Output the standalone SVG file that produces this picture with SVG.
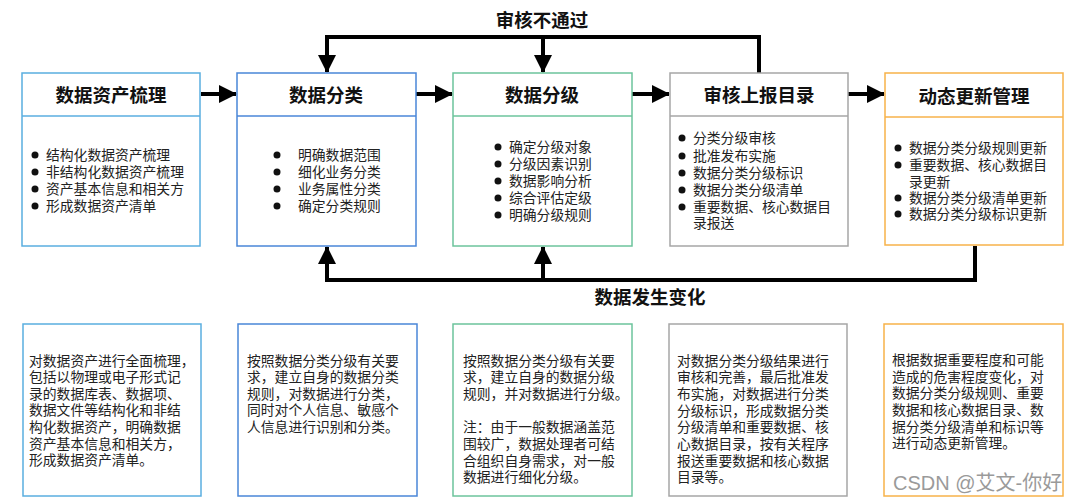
<svg xmlns="http://www.w3.org/2000/svg" width="1080" height="504" viewBox="0 0 1080 504">
<style>
.box{fill:#fff;stroke-width:1.5}
.c1{stroke:#5aaee0}.c2{stroke:#4a86d8}.c3{stroke:#6cc49c}.c4{stroke:#a6a6a6}.c5{stroke:#f7b24a}
.hd{font-family:"Liberation Sans","Noto Sans CJK SC",sans-serif;font-size:18.5px;font-weight:bold;fill:#111;text-anchor:middle;dominant-baseline:central}
.bt{font-family:"Liberation Sans","Noto Sans CJK SC",sans-serif;font-size:13.8px;fill:#222;dominant-baseline:central}
.dot{fill:#111}
.lbl{font-family:"Liberation Sans","Noto Sans CJK SC",sans-serif;font-size:18.5px;font-weight:bold;fill:#111;text-anchor:middle;dominant-baseline:central}
.conn{fill:none;stroke:#000;stroke-width:4;marker-end:url(#ah)}
.wm{font-family:"Liberation Sans","Noto Sans CJK SC",sans-serif;font-size:20px;fill:#9a9a9a}
</style>
<defs>
<marker id="ah" markerUnits="userSpaceOnUse" markerWidth="18" markerHeight="18" refX="17" refY="9" orient="auto">
<path d="M0,0 L18,9 L0,18 z" fill="#000"/>
</marker>
</defs>
<rect width="1080" height="504" fill="#fff"/>

<g id="connectors">
<path class="conn" d="M201,94 H236"/>
<path class="conn" d="M416,94 H452"/>
<path class="conn" d="M632,94 H669"/>
<path class="conn" d="M848,94 H884"/>
<path class="conn" d="M759,73 V37 H327 V72"/>
<path class="conn" d="M543,37 V72"/>
<path class="conn" d="M975,246 V280 H327 V247"/>
<path class="conn" d="M543,280 V247"/>
<text class="lbl" x="542" y="20">审核不通过</text>
<text class="lbl" x="650" y="297">数据发生变化</text>
</g>

<g id="node1">
<rect class="box c1" x="22" y="73" width="178" height="173"/>
<line class="c1" x1="22" y1="116" x2="200" y2="116" stroke-width="1.5"/>
<text class="hd" x="111" y="95">数据资产梳理</text>
<circle class="dot" cx="35" cy="155" r="3.5"/><text class="bt" x="46" y="155">结构化数据资产梳理</text>
<circle class="dot" cx="35" cy="172" r="3.5"/><text class="bt" x="46" y="172">非结构化数据资产梳理</text>
<circle class="dot" cx="35" cy="189" r="3.5"/><text class="bt" x="46" y="189">资产基本信息和相关方</text>
<circle class="dot" cx="35" cy="206" r="3.5"/><text class="bt" x="46" y="206">形成数据资产清单</text>
</g>

<g id="node2">
<rect class="box c2" x="237" y="73" width="179" height="173"/>
<line class="c2" x1="237" y1="116" x2="416" y2="116" stroke-width="1.5"/>
<text class="hd" x="326" y="95">数据分类</text>
<circle class="dot" cx="277" cy="155" r="3.5"/><text class="bt" x="298" y="155">明确数据范围</text>
<circle class="dot" cx="277" cy="172" r="3.5"/><text class="bt" x="298" y="172">细化业务分类</text>
<circle class="dot" cx="277" cy="189" r="3.5"/><text class="bt" x="298" y="189">业务属性分类</text>
<circle class="dot" cx="277" cy="206" r="3.5"/><text class="bt" x="298" y="206">确定分类规则</text>
</g>

<g id="node3">
<rect class="box c3" x="453" y="73" width="179" height="173"/>
<line class="c3" x1="453" y1="116" x2="632" y2="116" stroke-width="1.5"/>
<text class="hd" x="542" y="95">数据分级</text>
<circle class="dot" cx="498" cy="147" r="3.5"/><text class="bt" x="509" y="147">确定分级对象</text>
<circle class="dot" cx="498" cy="164" r="3.5"/><text class="bt" x="509" y="164">分级因素识别</text>
<circle class="dot" cx="498" cy="181" r="3.5"/><text class="bt" x="509" y="181">数据影响分析</text>
<circle class="dot" cx="498" cy="198" r="3.5"/><text class="bt" x="509" y="198">综合评估定级</text>
<circle class="dot" cx="498" cy="215" r="3.5"/><text class="bt" x="509" y="215">明确分级规则</text>
</g>

<g id="node4">
<rect class="box c4" x="670" y="73" width="178" height="173"/>
<line class="c4" x1="670" y1="116" x2="848" y2="116" stroke-width="1.5"/>
<text class="hd" x="759" y="95">审核上报目录</text>
<circle class="dot" cx="682" cy="138" r="3.5"/><text class="bt" x="693" y="138">分类分级审核</text>
<circle class="dot" cx="682" cy="156" r="3.5"/><text class="bt" x="693" y="156">批准发布实施</text>
<circle class="dot" cx="682" cy="173" r="3.5"/><text class="bt" x="693" y="173">数据分类分级标识</text>
<circle class="dot" cx="682" cy="190" r="3.5"/><text class="bt" x="693" y="190">数据分类分级清单</text>
<circle class="dot" cx="682" cy="207" r="3.5"/><text class="bt" x="693" y="207">重要数据、核心数据目</text>
<text class="bt" x="693" y="223">录报送</text>
</g>

<g id="node5">
<rect class="box c5" x="885" y="73" width="178" height="172"/>
<line class="c5" x1="885" y1="117" x2="1063" y2="117" stroke-width="1.5"/>
<text class="hd" x="974" y="96">动态更新管理</text>
<circle class="dot" cx="898" cy="148" r="3.5"/><text class="bt" x="909" y="148">数据分类分级规则更新</text>
<circle class="dot" cx="898" cy="165" r="3.5"/><text class="bt" x="909" y="165">重要数据、核心数据目</text>
<text class="bt" x="909" y="182">录更新</text>
<circle class="dot" cx="898" cy="198" r="3.5"/><text class="bt" x="909" y="198">数据分类分级清单更新</text>
<circle class="dot" cx="898" cy="214" r="3.5"/><text class="bt" x="909" y="214">数据分类分级标识更新</text>
</g>

<g id="desc1">
<rect class="box c1" x="23" y="324" width="178" height="172"/>
<text class="bt" x="29" y="361">对数据资产进行全面梳理，</text>
<text class="bt" x="29" y="377">包括以物理或电子形式记</text>
<text class="bt" x="29" y="394">录的数据库表、数据项、</text>
<text class="bt" x="29" y="410">数据文件等结构化和非结</text>
<text class="bt" x="29" y="427">构化数据资产，明确数据</text>
<text class="bt" x="29" y="444">资产基本信息和相关方，</text>
<text class="bt" x="29" y="460">形成数据资产清单。</text>
</g>

<g id="desc2">
<rect class="box c2" x="238" y="324" width="179" height="172"/>
<text class="bt" x="247" y="361">按照数据分类分级有关要</text>
<text class="bt" x="247" y="377">求，建立自身的数据分类</text>
<text class="bt" x="247" y="394">规则，对数据进行分类，</text>
<text class="bt" x="247" y="410">同时对个人信息、敏感个</text>
<text class="bt" x="247" y="427">人信息进行识别和分类。</text>
</g>

<g id="desc3">
<rect class="box c3" x="453" y="324" width="179" height="172"/>
<text class="bt" x="463" y="361">按照数据分类分级有关要</text>
<text class="bt" x="463" y="377">求，建立自身的数据分级</text>
<text class="bt" x="463" y="394">规则，并对数据进行分级。</text>
<text class="bt" x="463" y="427">注：由于一般数据涵盖范</text>
<text class="bt" x="463" y="444">围较广，数据处理者可结</text>
<text class="bt" x="463" y="461">合组织自身需求，对一般</text>
<text class="bt" x="463" y="477">数据进行细化分级。</text>
</g>

<g id="desc4">
<rect class="box c4" x="669" y="324" width="178" height="172"/>
<text class="bt" x="677" y="361">对数据分类分级结果进行</text>
<text class="bt" x="677" y="377">审核和完善，最后批准发</text>
<text class="bt" x="677" y="394">布实施，对数据进行分类</text>
<text class="bt" x="677" y="411">分级标识，形成数据分类</text>
<text class="bt" x="677" y="427">分级清单和重要数据、核</text>
<text class="bt" x="677" y="444">心数据目录，按有关程序</text>
<text class="bt" x="677" y="461">报送重要数据和核心数据</text>
<text class="bt" x="677" y="477">目录等。</text>
</g>

<g id="desc5">
<rect class="box c5" x="884" y="324" width="179" height="172"/>
<text class="bt" x="892" y="360">根据数据重要程度和可能</text>
<text class="bt" x="892" y="377">造成的危害程度变化，对</text>
<text class="bt" x="892" y="393">数据分类分级规则、重要</text>
<text class="bt" x="892" y="410">数据和核心数据目录、数</text>
<text class="bt" x="892" y="427">据分类分级清单和标识等</text>
<text class="bt" x="892" y="443">进行动态更新管理。</text>
</g>

<text class="wm" x="893" y="490">CSDN @艾文-你好</text>
</svg>
